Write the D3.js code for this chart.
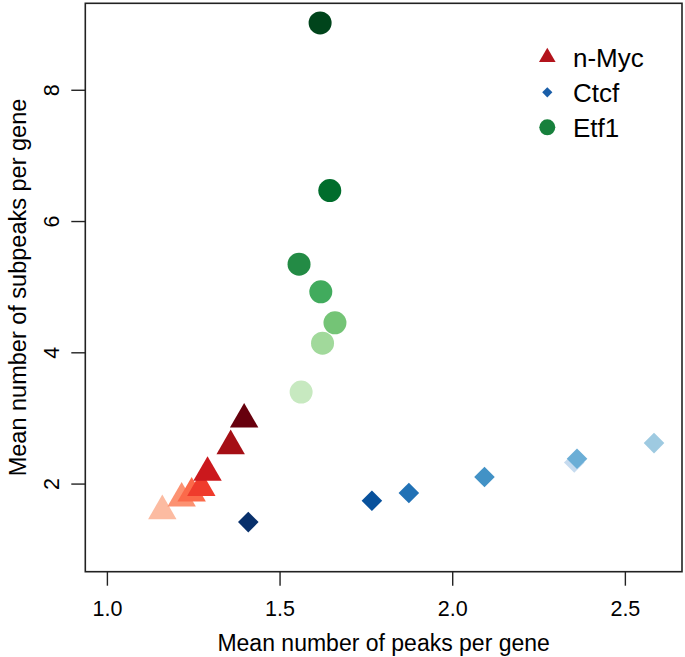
<!DOCTYPE html>
<html>
<head>
<meta charset="utf-8">
<script src="https://cdn.jsdelivr.net/npm/d3@7"></script>
<style>
  body { margin: 0; background: #fff; }
  text { font-family: "Liberation Sans", Arial, Helvetica, sans-serif; fill: #000; }
</style>
</head>
<body>
<div id="chart"></div>
<script>
// values (mean peaks per gene, mean subpeaks per gene)
const mycX = [1.396, 1.357, 1.290, 1.272, 1.244, 1.215, 1.159]
const mycY = [2.987, 2.580, 2.174, 1.945, 1.858, 1.782, 1.590]
const ctcfX = [1.408, 1.766, 1.873, 2.092, 2.352, 2.360, 2.583]
const ctcfY = [1.421, 1.746, 1.863, 2.107, 2.329, 2.385, 2.624]
const etfX = [1.616, 1.644, 1.555, 1.618, 1.659, 1.623, 1.561]
const etfY = [9.025, 6.471, 5.350, 4.929, 4.457, 4.147, 3.401]

const mycColors = ["#67000d", "#a50f15", "#cb181d", "#ef3b2c", "#fb6a4a", "#fc9272", "#fcbba1"]
const ctcfColors = ["#08306b", "#08519c", "#2171b5", "#4292c6", "#c6dbef", "#6baed6", "#9ecae1"]
const etfColors = ["#00441b", "#006d2c", "#238b45", "#41ab5d", "#74c476", "#a1d99b", "#c7e9c0"]

const xTicks = [1.0, 1.5, 2.0, 2.5]
const yTicks = [2, 4, 6, 8]
const legendNames = ["n-Myc", "Ctcf", "Etf1"]
const legendColors = ["#b3141c", "#1a5ea8", "#17803c"]

const W = 685, H = 657
const box = { left: 85.3, right: 682, top: 3.3, bottom: 571.7 }

const x = d3.scaleLinear().domain([0.936, 2.664]).range([box.left, box.right])
const y = d3.scaleLinear().domain([0.665, 9.325]).range([box.bottom, box.top])

const svg = d3.select("#chart").append("svg").attr("width", W).attr("height", H)

const pts = (xs, ys, cs) => xs.map((v, i) => ({ x: v, y: ys[i], c: cs[i] }))
// lighter ones first so the darker marks sit on top
const myc = pts(mycX, mycY, mycColors).reverse()
const ctcf = pts(ctcfX, ctcfY, ctcfColors)
const etf = pts(etfX, etfY, etfColors).reverse()

const tri = d3.symbol().type(d3.symbolTriangle).size(350)
const dia = d3.symbol().type(d3.symbolSquare).size(212)

svg.append("g").selectAll("path").data(myc).enter().append("path")
  .attr("d", tri)
  .attr("transform", (d) => `translate(${x(d.x)},${y(d.y)})`)
  .attr("fill", (d) => d.c)

svg.append("g").selectAll("path").data([ctcf[4], ctcf[0], ctcf[1], ctcf[2], ctcf[3], ctcf[5], ctcf[6]]).enter().append("path")
  .attr("d", dia)
  .attr("transform", (d) => `translate(${x(d.x)},${y(d.y)}) rotate(45)`)
  .attr("fill", (d) => d.c)

svg.append("g").selectAll("circle").data(etf).enter().append("circle")
  .attr("cx", (d) => x(d.x))
  .attr("cy", (d) => y(d.y))
  .attr("r", 11.5)
  .attr("fill", (d) => d.c)

// frame
svg.append("rect")
  .attr("x", box.left).attr("y", box.top)
  .attr("width", box.right - box.left).attr("height", box.bottom - box.top)
  .attr("fill", "none").attr("stroke", "#222").attr("stroke-width", 1.6)

// x axis
const xa = svg.append("g")
xa.selectAll("line").data(xTicks).enter().append("line")
  .attr("x1", (d) => x(d)).attr("x2", (d) => x(d))
  .attr("y1", box.bottom).attr("y2", box.bottom + 14)
  .attr("stroke", "#222").attr("stroke-width", 1.4)
xa.selectAll("text").data(xTicks).enter().append("text")
  .attr("x", (d) => x(d)).attr("y", 616)
  .attr("text-anchor", "middle").attr("font-size", 21.5)
  .text((d) => d.toFixed(1))
svg.append("text")
  .attr("x", (box.left + box.right) / 2).attr("y", 651)
  .attr("text-anchor", "middle").attr("font-size", 23)
  .text("Mean number of peaks per gene")

// y axis
const ya = svg.append("g")
ya.selectAll("line").data(yTicks).enter().append("line")
  .attr("x1", box.left - 14).attr("x2", box.left)
  .attr("y1", (d) => y(d)).attr("y2", (d) => y(d))
  .attr("stroke", "#222").attr("stroke-width", 1.4)
ya.selectAll("text").data(yTicks).enter().append("text")
  .attr("transform", (d) => `translate(59,${y(d)}) rotate(-90)`)
  .attr("text-anchor", "middle").attr("font-size", 21.5)
  .text((d) => d)
svg.append("text")
  .attr("transform", `translate(26,${(box.top + box.bottom) / 2}) rotate(-90)`)
  .attr("text-anchor", "middle").attr("font-size", 23.5)
  .text("Mean number of subpeaks per gene")

// legend
const lg = svg.append("g").attr("transform", "translate(547.3,57.3)")
const legendMarks = [
  d3.symbol().type(d3.symbolTriangle).size(120)(),
  d3.symbol().type(d3.symbolSquare).size(52)(),
  d3.symbol().type(d3.symbolCircle).size(Math.PI * 64)(),
]
lg.selectAll("path").data(legendNames).enter().append("path")
  .attr("d", (_d, i) => legendMarks[i])
  .attr("transform", (_d, i) => `translate(0,${i * 35})` + (i == 1 ? " rotate(45)" : ""))
  .attr("fill", (_d, i) => legendColors[i])
lg.selectAll("text").data(legendNames).enter().append("text")
  .attr("x", 25.7).attr("y", (_d, i) => 10 + i * 34.7)
  .attr("font-size", 26)
  .text((d) => d)
</script>
</body>
</html>
